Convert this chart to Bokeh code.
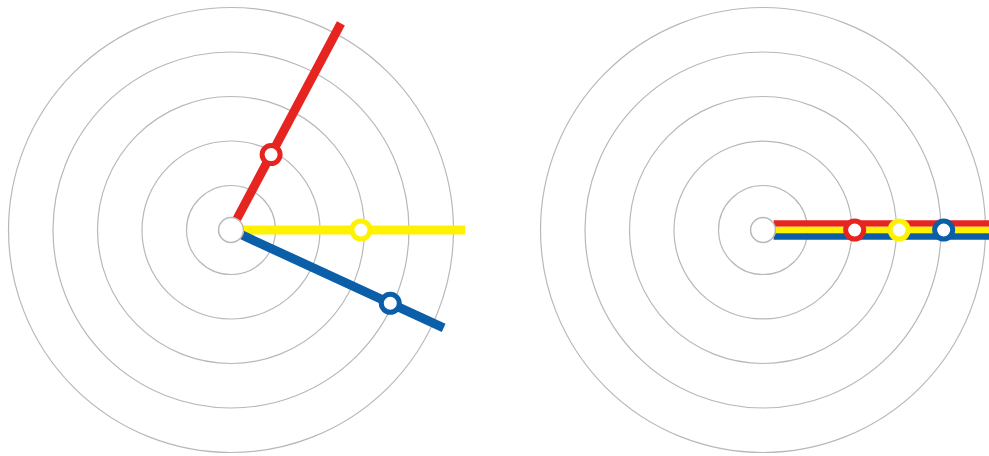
import numpy as np
from bokeh.plotting import figure
from bokeh.models import Range1d
from bokeh.embed import file_html
from bokeh.resources import INLINE

# ---- data ----
series = ["Red", "Yellow", "Blue"]
left_angles = [62, 0, -24.7]          # degrees
left_values = [1.92, 2.92, 3.94]
right_angles = [0, 0, 0]
right_values = [2.06, 3.06, 4.06]
ring_values = [1, 2, 3, 4, 5]
axis_max = 5.26
hole = 0.28

# ---- style ----
colors = ["#e62420", "#fff200", "#0b5ea8"]
ring_color = "#b8b8b8"
W, H = 989, 456
S = 44.5                      # px per unit
cx_left_px, cy_px = 230.5, 229.5
cx_right_px = 762.5

p = figure(width=W, height=H, output_backend="svg", toolbar_location=None,
           x_range=Range1d(-cx_left_px / S, (W - cx_left_px) / S),
           y_range=Range1d(-(H - cy_px) / S, cy_px / S),
           min_border=0)
p.axis.visible = False
p.grid.visible = False
p.outline_line_color = None
p.background_fill_color = "white"

centers = [(0.0, 0.0), ((cx_right_px - cx_left_px) / S, 0.0)]

def draw_chart(cx, cy, angles, values, lw, offset_step):
    # rings
    p.circle(x=[cx] * len(ring_values), y=[cy] * len(ring_values), radius=ring_values,
             fill_color=None, line_color=ring_color, line_width=1.2)
    n = len(values)
    for i, (a, v) in enumerate(zip(angles, values)):
        t = np.deg2rad(a)
        ux, uy = np.cos(t), np.sin(t)
        px, py = -uy, ux
        off = ((n - 1) / 2 - i) * offset_step
        ox, oy = cx + px * off, cy + py * off
        r0 = np.sqrt(max(hole ** 2 - off ** 2, 0)) if offset_step else hole
        p.line(x=[ox + ux * r0, ox + ux * axis_max], y=[oy + uy * r0, oy + uy * axis_max],
               line_color=colors[i], line_width=lw, line_cap="butt")
    for i, (a, v) in enumerate(zip(angles, values)):
        t = np.deg2rad(a)
        ux, uy = np.cos(t), np.sin(t)
        p.scatter(x=[cx + ux * v], y=[cy + uy * v], size=18,
                  marker="circle", fill_color="white", line_color=colors[i], line_width=5)
    # hole
    p.circle(x=[cx], y=[cy], radius=hole, fill_color="white",
             line_color=ring_color, line_width=1.5)

draw_chart(centers[0][0], centers[0][1], left_angles, left_values, 9, 0.0)
draw_chart(centers[1][0], centers[1][1], right_angles, right_values, 6.5, 6.5 / S)

open("out.html", "w").write(file_html(p, INLINE))
